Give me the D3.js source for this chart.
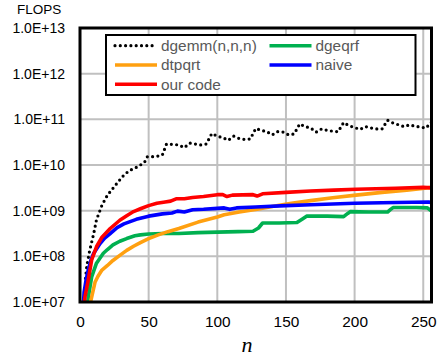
<!DOCTYPE html>
<html>
<head>
<meta charset="utf-8">
<script src="https://cdn.jsdelivr.net/npm/d3@7"></script>
<style>
  body { margin: 0; background: #fff; }
  svg { display: block; }
</style>
</head>
<body>
<div id="chart"></div>
<script>
// values (n, FLOPS)
const dgemm_n = [4, 5, 7, 10, 12, 16, 20, 24, 28, 32, 36, 40, 44, 47, 49, 52, 56, 60, 63, 68, 72, 76, 80, 84, 88, 92, 96, 100, 104, 108, 112, 116, 120, 124, 128, 132, 136, 140, 144, 148, 152, 156, 160, 164, 168, 172, 176, 180, 184, 188, 192, 196, 200, 204, 208, 212, 216, 220, 224, 228, 232, 236, 240, 244, 248, 252, 256];
const dgemm_flops = [3.31e7, 6.31e7, 1.32e8, 3.16e8, 6.31e8, 1.32e9, 2.19e9, 3.09e9, 4.37e9, 6.03e9, 7.59e9, 8.51e9, 1.0e10, 1.15e10, 1.51e10, 1.51e10, 1.55e10, 1.66e10, 2.88e10, 2.82e10, 2.75e10, 2.4e10, 3.02e10, 2.88e10, 2.75e10, 2.88e10, 4.9e10, 4.27e10, 3.98e10, 3.47e10, 4.27e10, 3.8e10, 3.63e10, 3.72e10, 6.31e10, 5.75e10, 5.37e10, 4.57e10, 5.37e10, 5.25e10, 4.57e10, 4.79e10, 7.94e10, 6.92e10, 6.46e10, 5.25e10, 6.17e10, 5.75e10, 5.5e10, 5.37e10, 8.51e10, 7.24e10, 6.61e10, 6.03e10, 6.92e10, 6.46e10, 6.17e10, 6.17e10, 9.55e10, 8.32e10, 7.59e10, 6.92e10, 7.59e10, 7.08e10, 6.76e10, 6.46e10, 8.71e10];

const dgeqrf_n = [5, 6, 8.5, 12, 15, 17, 20, 24, 29, 34, 40, 44, 50, 60, 72, 86, 100, 115, 126, 130, 133, 145, 158, 162, 165, 180, 192, 195, 197, 210, 224, 226, 228, 245, 253, 256];
const dgeqrf_flops = [7.08e6, 1.26e7, 3.55e7, 7.08e7, 9.55e7, 1.17e8, 1.41e8, 1.78e8, 2.14e8, 2.45e8, 2.82e8, 2.95e8, 3.09e8, 3.16e8, 3.16e8, 3.31e8, 3.39e8, 3.47e8, 3.55e8, 4.17e8, 5.37e8, 5.37e8, 5.5e8, 6.61e8, 7.59e8, 7.59e8, 7.41e8, 8.71e8, 9.55e8, 9.33e8, 9.33e8, 1.05e9, 1.17e9, 1.17e9, 1.15e9, 9.77e8];

const dtpqrt_n = [7, 8, 11, 13, 16, 20, 24, 29, 34, 39, 44, 50, 57, 64, 72, 86, 100, 105, 116, 129, 142, 154, 168, 184, 201, 220, 238, 256];
const dtpqrt_flops = [7.08e6, 1.1e7, 2.75e7, 3.63e7, 5.01e7, 6.31e7, 8.13e7, 1.05e8, 1.35e8, 1.66e8, 2.0e8, 2.45e8, 2.95e8, 3.47e8, 4.07e8, 5.62e8, 7.24e8, 8.13e8, 9.33e8, 1.07e9, 1.26e9, 1.45e9, 1.66e9, 1.91e9, 2.19e9, 2.51e9, 2.82e9, 3.24e9];

const naive_n = [2.5, 3, 4.5, 6, 8, 10, 14.6, 18, 22, 27, 32, 41, 50, 60, 67, 71, 76, 82, 90, 100, 105, 109, 114, 128, 150, 168, 200, 230, 254, 256];
const naive_flops = [8.91e6, 1.66e7, 3.16e7, 5.01e7, 8.32e7, 1.17e8, 1.91e8, 2.51e8, 3.16e8, 4.27e8, 5.13e8, 6.46e8, 7.59e8, 8.51e8, 8.91e8, 9.77e8, 9.33e8, 1.05e9, 1.07e9, 1.12e9, 1.15e9, 1.07e9, 1.15e9, 1.2e9, 1.29e9, 1.35e9, 1.45e9, 1.51e9, 1.55e9, 1.48e9];

const ourcode_n = [3, 3.7, 6, 8.5, 12, 16, 22, 29, 34, 39, 44, 50, 56, 62, 66, 70, 76, 82, 90, 100, 104, 107, 111, 126, 129, 133, 150, 168, 185, 201, 230, 250, 256];
const ourcode_flops = [8.91e6, 1.32e7, 3.02e7, 8.32e7, 1.62e8, 2.63e8, 4.07e8, 6.17e8, 7.76e8, 9.55e8, 1.1e9, 1.29e9, 1.45e9, 1.55e9, 1.62e9, 1.82e9, 1.82e9, 1.95e9, 2.04e9, 2.24e9, 2.24e9, 2.04e9, 2.19e9, 2.24e9, 2.09e9, 2.34e9, 2.51e9, 2.69e9, 2.82e9, 2.95e9, 3.09e9, 3.24e9, 3.16e9];

const series_names = ["dgemm(n,n,n)", "dgeqrf", "dtpqrt", "naive", "our code"];
const x_ticks = [0, 50, 100, 150, 200, 250];
const y_ticks = [1e7, 1e8, 1e9, 1e10, 1e11, 1e12, 1e13];
const y_tick_labels = ["1.0E+07", "1.0E+08", "1.0E+09", "1.0E+10", "1.0E+11", "1.0E+12", "1.0E+13"];

const width = 438;
const height = 360;
const margins = { left: 80, right: 6.5, top: 28, bottom: 58 };
const w = width - margins.left - margins.right;
const h = height - margins.top - margins.bottom;

const font = "'Liberation Sans', Arial, sans-serif";
const series_style = {
  "dgemm(n,n,n)": { color: "#000000", dotted: true },
  dgeqrf: { color: "#00b050" },
  dtpqrt: { color: "#ffa010" },
  naive: { color: "#0000ff" },
  "our code": { color: "#ff0000" },
};

const series = [
  { name: series_names[0], n: dgemm_n, flops: dgemm_flops },
  { name: series_names[1], n: dgeqrf_n, flops: dgeqrf_flops },
  { name: series_names[2], n: dtpqrt_n, flops: dtpqrt_flops },
  { name: series_names[3], n: naive_n, flops: naive_flops },
  { name: series_names[4], n: ourcode_n, flops: ourcode_flops },
];

const svg = d3
  .select("#chart")
  .append("svg")
  .attr("width", width)
  .attr("height", height);

const g = svg
  .append("g")
  .attr("transform", `translate(${margins.left}, ${margins.top})`);

const X = d3.scaleLinear().domain([0, 256]).range([0, w]);
const Y = d3.scaleLog().domain([1e7, 1e13]).range([h, 0]);

// grid
g.append("g")
  .selectAll("line.hgrid")
  .data(y_ticks)
  .enter()
  .append("line")
  .attr("x1", 0)
  .attr("x2", w)
  .attr("y1", (d) => Y(d))
  .attr("y2", (d) => Y(d))
  .attr("stroke", "#c0c0c0")
  .attr("stroke-width", 2);

g.append("g")
  .selectAll("line.vgrid")
  .data(x_ticks)
  .enter()
  .append("line")
  .attr("x1", (d) => X(d))
  .attr("x2", (d) => X(d))
  .attr("y1", 0)
  .attr("y2", h)
  .attr("stroke", "#c0c0c0")
  .attr("stroke-width", 2);

svg
  .append("defs")
  .append("clipPath")
  .attr("id", "plot_clip")
  .append("rect")
  .attr("width", w)
  .attr("height", h);

const line = d3
  .line()
  .x((d) => X(d[0]))
  .y((d) => Y(d[1]));

const lines_g = g.append("g").attr("clip-path", "url(#plot_clip)");

series.forEach((s) => {
  const style = series_style[s.name];
  const points = s.n.map((n, i) => [n, s.flops[i]]);
  const path = lines_g
    .append("path")
    .attr("d", line(points))
    .attr("fill", "none")
    .attr("stroke", style.color)
    .attr("stroke-linejoin", "round");
  if (style.dotted) {
    path
      .attr("stroke-width", 3.2)
      .attr("stroke-linecap", "round")
      .attr("stroke-dasharray", "0 5.3");
  } else {
    path.attr("stroke-width", 3.6);
  }
});

// plot border
g.append("rect")
  .attr("width", w)
  .attr("height", h)
  .attr("fill", "none")
  .attr("stroke", "#000")
  .attr("stroke-width", 3);

// axes
g.append("g")
  .call(
    d3
      .axisLeft(Y)
      .tickValues(y_ticks)
      .tickFormat((d, i) => y_tick_labels[i])
      .tickSize(0)
      .tickPadding(15)
  )
  .call((a) => a.select(".domain").remove())
  .call((a) =>
    a
      .selectAll("text")
      .attr("font-family", font)
      .attr("font-size", 14)
      .attr("fill", "#000")
  );

g.append("g")
  .attr("transform", `translate(0, ${h})`)
  .call(d3.axisBottom(X).tickValues(x_ticks).tickSize(0).tickPadding(14.5))
  .call((a) => a.select(".domain").remove())
  .call((a) =>
    a
      .selectAll("text")
      .attr("font-family", font)
      .attr("font-size", 15.4)
      .attr("fill", "#000")
  );

svg
  .append("text")
  .attr("x", 17)
  .attr("y", 13.5)
  .attr("font-family", font)
  .attr("font-size", 13.5)
  .text("FLOPS");

svg
  .append("text")
  .attr("x", 247)
  .attr("y", 352)
  .attr("text-anchor", "middle")
  .attr("font-family", "'Liberation Serif', 'Times New Roman', serif")
  .attr("font-style", "italic")
  .attr("font-size", 22)
  .text("n");

// legend
const legend = { x: 106, y: 35, w: 309.5, h: 60 };
const legend_g = svg.append("g");
legend_g
  .append("rect")
  .attr("x", legend.x)
  .attr("y", legend.y)
  .attr("width", legend.w)
  .attr("height", legend.h)
  .attr("fill", "#fff")
  .attr("stroke", "#000")
  .attr("stroke-width", 2);

const legend_rows = [45.7, 65, 84.3];
const legend_cols = [115, 269.5];
series.forEach((s, i) => {
  const style = series_style[s.name];
  const col = legend_cols[i % 2];
  const row = legend_rows[Math.floor(i / 2)];
  const sample = legend_g
    .append("line")
    .attr("x1", col)
    .attr("x2", col + 42)
    .attr("y1", row)
    .attr("y2", row)
    .attr("stroke", style.color);
  if (style.dotted) {
    sample
      .attr("stroke-width", 3.2)
      .attr("stroke-linecap", "round")
      .attr("stroke-dasharray", "0 5.3");
  } else {
    sample.attr("stroke-width", 3.6);
  }
  legend_g
    .append("text")
    .attr("x", col + 46)
    .attr("y", row)
    .attr("dy", "0.35em")
    .attr("font-family", font)
    .attr("font-size", 15.4)
    .attr("fill", "#595959")
    .text(s.name);
});
</script>
</body>
</html>
